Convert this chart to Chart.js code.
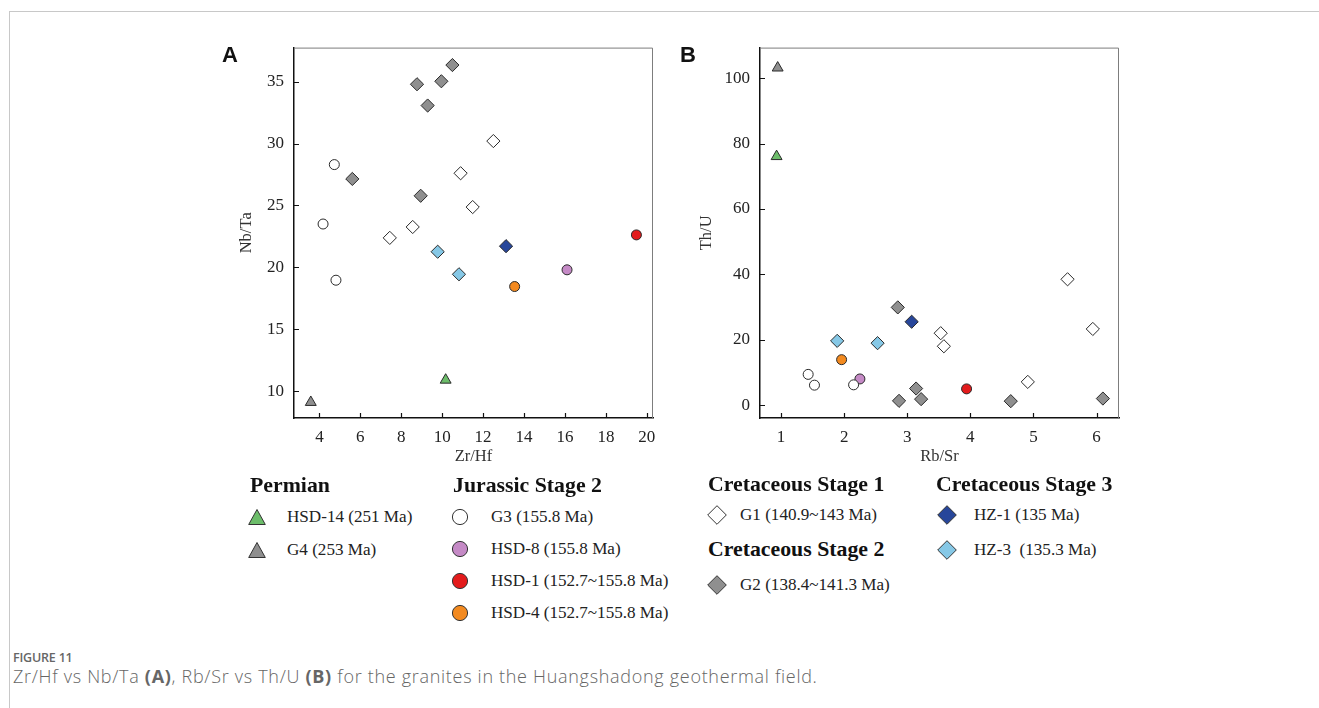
<!DOCTYPE html>
<html>
<head>
<meta charset="utf-8">
<script src="https://cdn.jsdelivr.net/npm/chart.js@4.4.1/dist/chart.umd.min.js"></script>
<style>
  body { margin: 0; width: 1319px; height: 708px; position: relative; overflow: hidden; background: #fff; font-family: 'Liberation Serif', 'Times New Roman', serif; color: #222; }
  .rule-top { position: absolute; left: 9px; top: 11px; right: 0; height: 1px; background: #c8c8c8; }
  .rule-left { position: absolute; left: 9px; top: 11px; bottom: 0; width: 1px; background: #c8c8c8; }
  canvas { position: absolute; }
  .panel { position: absolute; font: bold 22px 'Liberation Sans', Arial, sans-serif; line-height: 1; color: #111; }
  .lg { position: absolute; line-height: 1; transform: translateY(-50%); white-space: nowrap; }
  .lg.head { font-weight: bold; font-size: 21.8px; color: #111; }
  .lg.item { font-size: 17.1px; }
  .ico { position: absolute; }
  .fig { position: absolute; left: 13px; font-family: 'Open Sans', 'Noto Sans', sans-serif; color: #666; white-space: nowrap; }
</style>
</head>
<body>
<div class="rule-top"></div>
<div class="rule-left"></div>

<canvas id="chartA" width="470" height="440" style="left:200px;top:40px"></canvas>
<canvas id="chartB" width="470" height="440" style="left:670px;top:40px"></canvas>
<div class="panel" style="left:222px;top:44px">A</div>
<div class="panel" style="left:680px;top:44px">B</div>

<div id="legend"></div>

<div class="fig" style="top:649px;font-size:12.5px;font-weight:600;letter-spacing:-0.2px">FIGURE 11</div>
<div class="fig" style="top:664px;font-size:18px;font-weight:300;letter-spacing:0.7px">Zr/Hf vs Nb/Ta <b style="font-weight:700">(A)</b>, Rb/Sr vs Th/U <b style="font-weight:700">(B)</b> for the granites in the Huangshadong geothermal field.</div>

<script>
// Zr/Hf vs Nb/Ta, [x, y]
const zrHf_HSD14 = [[10.17, 10.9]];
const zrHf_G4    = [[3.58, 9.1]];
const zrHf_G3    = [[4.73, 28.3], [4.18, 23.5], [4.81, 18.96]];
const zrHf_HSD8  = [[16.1, 19.8]];
const zrHf_HSD1  = [[19.49, 22.62]];
const zrHf_HSD4  = [[13.54, 18.45]];
const zrHf_G1    = [[12.5, 30.2], [10.9, 27.6], [11.49, 24.87], [8.56, 23.26], [7.44, 22.38]];
const zrHf_G2    = [[10.5, 36.34], [8.77, 34.79], [9.96, 35.03], [9.29, 33.07], [5.61, 27.14], [8.95, 25.78]];
const zrHf_HZ1   = [[13.12, 21.71]];
const zrHf_HZ3   = [[9.78, 21.26], [10.82, 19.44]];

// Rb/Sr vs Th/U, [x, y]
const rbSr_HSD14 = [[0.93, 76.1]];
const rbSr_G4    = [[0.947, 103.2]];
const rbSr_G3    = [[1.43, 9.4], [1.53, 6.1], [2.15, 6.2]];
const rbSr_HSD8  = [[2.25, 8.0]];
const rbSr_HSD1  = [[3.94, 4.96]];
const rbSr_HSD4  = [[1.96, 13.9]];
const rbSr_G1    = [[3.53, 22.0], [3.58, 18.0], [4.91, 7.1], [5.54, 38.5], [5.94, 23.3]];
const rbSr_G2    = [[2.85, 29.9], [2.87, 1.3], [3.14, 5.07], [3.22, 1.82], [4.64, 1.2], [6.1, 2.0]];
const rbSr_HZ1   = [[3.07, 25.5]];
const rbSr_HZ3   = [[1.89, 19.65], [2.53, 18.95]];

// tick labels
const ticksZrHf = [4, 6, 8, 10, 12, 14, 16, 18, 20];
const ticksNbTa = [10, 15, 20, 25, 30, 35];
const ticksRbSr = [1, 2, 3, 4, 5, 6];
const ticksThU  = [0, 20, 40, 60, 80, 100];

// sample groups: label, marker, fill
const groupNames  = ['HSD-14 (251 Ma)', 'G4 (253 Ma)', 'G3 (155.8 Ma)', 'HSD-8 (155.8 Ma)', 'HSD-1 (152.7~155.8 Ma)',
                     'HSD-4 (152.7~155.8 Ma)', 'G1 (140.9~143 Ma)', 'G2 (138.4~141.3 Ma)', 'HZ-1 (135 Ma)', 'HZ-3  (135.3 Ma)'];
const groupShapes = ['triangle', 'triangle', 'circle', 'circle', 'circle', 'circle', 'rectRot', 'rectRot', 'rectRot', 'rectRot'];
const groupFills  = ['#6cbd6a', '#8f8f8f', '#ffffff', '#c58ac6', '#e31b1c', '#f38a20', '#ffffff', '#8f8f8f', '#27469a', '#86c8e6'];

const seriesA = [zrHf_HSD14, zrHf_G4, zrHf_G3, zrHf_HSD8, zrHf_HSD1, zrHf_HSD4, zrHf_G1, zrHf_G2, zrHf_HZ1, zrHf_HZ3];
const seriesB = [rbSr_HSD14, rbSr_G4, rbSr_G3, rbSr_HSD8, rbSr_HSD1, rbSr_HSD4, rbSr_G1, rbSr_G2, rbSr_HZ1, rbSr_HZ3];

const radius = { circle: 5, triangle: 6.3, rectRot: 6.6 };

function makeDatasets(series) {
  return series.map((pts, i) => ({
    label: groupNames[i],
    data: pts.map(p => ({ x: p[0], y: p[1] })),
    pointStyle: groupShapes[i],
    pointRadius: radius[groupShapes[i]],
    pointHoverRadius: radius[groupShapes[i]],
    backgroundColor: groupFills[i],
    borderColor: '#2a2a2a',
    borderWidth: 1,
    showLine: false
  }));
}

// inward tick marks and the thin top/right frame
const boxTicks = {
  id: 'boxTicks',
  beforeDatasetsDraw(chart, args, opts) {
    const { ctx, chartArea: a, scales: { x, y } } = chart;
    ctx.save();
    ctx.strokeStyle = '#7d7d7d';
    ctx.lineWidth = 1;
    ctx.beginPath();
    ctx.moveTo(a.left, a.top + 0.5);
    ctx.lineTo(a.right - 0.5, a.top + 0.5);
    ctx.lineTo(a.right - 0.5, a.bottom);
    ctx.stroke();
    ctx.strokeStyle = '#111';
    ctx.lineWidth = 1.2;
    ctx.beginPath();
    opts.xt.forEach(v => {
      const px = Math.round(x.getPixelForValue(v)) + 0.5;
      ctx.moveTo(px, a.bottom);
      ctx.lineTo(px, a.bottom - 5);
    });
    opts.yt.forEach(v => {
      const py = Math.round(y.getPixelForValue(v)) + 0.5;
      ctx.moveTo(a.left, py);
      ctx.lineTo(a.left + 5, py);
    });
    ctx.stroke();
    ctx.restore();
  }
};

const tickFont = { family: "'Liberation Serif', 'Times New Roman', serif", size: 17 };
const titleFont = { family: "'Liberation Serif', 'Times New Roman', serif", size: 16.5 };

function makeChart(id, series, p) {
  return new Chart(document.getElementById(id), {
    type: 'scatter',
    data: { datasets: makeDatasets(series) },
    plugins: [boxTicks],
    options: {
      responsive: false,
      animation: false,
      events: [],
      layout: { padding: { left: 0, top: 5, right: p.padRight, bottom: 0 } },
      plugins: {
        legend: { display: false },
        tooltip: { enabled: false },
        boxTicks: { xt: p.xt, yt: p.yt }
      },
      scales: {
        x: {
          type: 'linear', min: p.xMin, max: p.xMax,
          afterBuildTicks: s => { s.ticks = p.xt.map(v => ({ value: v })); },
          afterFit: s => { s.height = 62; s.paddingLeft = 0; s.paddingRight = 0; },
          grid: { drawOnChartArea: false, drawTicks: false },
          border: { color: '#111', width: 1.5 },
          ticks: { font: tickFont, color: '#222', padding: 9, maxRotation: 0 },
          title: { display: true, text: p.xTitle, font: titleFont, color: '#333', padding: { top: 0, bottom: 13 } }
        },
        y: {
          type: 'linear', min: p.yMin, max: p.yMax,
          afterBuildTicks: s => { s.ticks = p.yt.map(v => ({ value: v })); },
          afterFit: s => { s.width = p.yWidth; s.paddingTop = 0; s.paddingBottom = 0; },
          grid: { drawOnChartArea: false, drawTicks: false },
          border: { color: '#111', width: 1.5 },
          ticks: { font: tickFont, color: '#222', padding: 10 },
          title: { display: true, text: p.yTitle, font: titleFont, color: '#333', padding: { top: p.yTitlePad, bottom: 0 } }
        }
      }
    }
  });
}

makeChart('chartA', seriesA, {
  xMin: 2.76, xMax: 20.3, yMin: 7.83, yMax: 37.75, xt: ticksZrHf, yt: ticksNbTa,
  xTitle: 'Zr/Hf', yTitle: 'Nb/Ta', yWidth: 94, yTitlePad: 37, padRight: 17
});
makeChart('chartB', seriesB, {
  xMin: 0.667, xMax: 6.355, yMin: -3.95, yMax: 109.4, xt: ticksRbSr, yt: ticksThU,
  xTitle: 'Rb/Sr', yTitle: 'Th/U', yWidth: 90, yTitlePad: 27, padRight: 21
});

// legend: headings and entries, drawn as html with small svg markers
function marker(shape, fill) {
  if (shape === 'circle') return `<svg width="18" height="18"><circle cx="9" cy="9" r="7.6" fill="${fill}" stroke="#333" stroke-width="1"/></svg>`;
  if (shape === 'triangle') return `<svg width="18" height="18"><polygon points="9,1.5 17.3,16.5 0.7,16.5" fill="${fill}" stroke="#333" stroke-width="1"/></svg>`;
  return `<svg width="20" height="20"><polygon points="10,0.7 19.3,10 10,19.3 0.7,10" fill="${fill}" stroke="#333" stroke-width="1"/></svg>`;
}
const headings = [['Permian', 250, 486], ['Jurassic Stage 2', 453, 486], ['Cretaceous Stage 1', 708, 485],
                  ['Cretaceous Stage 2', 708, 549.5], ['Cretaceous Stage 3', 936, 485]];
// marker centre x, row centre y, text x
const entryPos = [[257, 516.5, 287], [257, 549.5, 287], [460, 516.5, 491], [460, 549, 491], [460, 581, 491],
                  [460, 613, 491], [716.5, 515, 740], [716.5, 585, 740], [946.7, 515, 974], [946.7, 550, 974]];
const lg = document.getElementById('legend');
let html = '';
headings.forEach(h => { html += `<div class="lg head" style="left:${h[1]}px;top:${h[2]}px">${h[0]}</div>`; });
entryPos.forEach((e, i) => {
  const s = groupShapes[i] === 'rectRot' ? 20 : 18;
  html += `<div class="ico" style="left:${e[0] - s / 2}px;top:${e[1] - s / 2}px">${marker(groupShapes[i], groupFills[i])}</div>`;
  html += `<div class="lg item" style="left:${e[2]}px;top:${e[1]}px">${groupNames[i].replace('  ', ' &nbsp;')}</div>`;
});
lg.innerHTML = html;
</script>
</body>
</html>
